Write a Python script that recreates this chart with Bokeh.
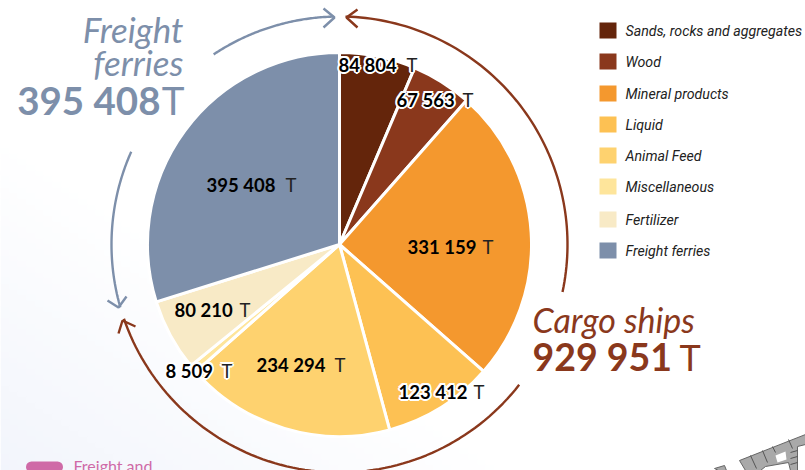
import numpy as np
from bokeh.plotting import figure
from bokeh.models import Range1d, ColumnDataSource
from bokeh.core.properties import value
from bokeh.embed import file_html
from bokeh.resources import INLINE

categories = ["Sands, rocks and aggregates", "Wood", "Mineral products", "Liquid",
              "Animal Feed", "Miscellaneous", "Fertilizer", "Freight ferries"]
tonnes = [84804, 67563, 331159, 123412, 234294, 8509, 80210, 395408]
colors = ["#64250b", "#8a381c", "#f4982e", "#fdc153", "#fed26f", "#fee59b", "#f8eac6", "#7d8faa"]
number_labels = ["84 804", "67 563", "331 159", "123 412", "234 294", "8 509", "80 210", "395 408"]
label_px = [(338, 64), (396, 99), (407, 246), (398, 391), (256, 364), (165, 370), (174, 309), (206, 184)]
unit_px = [406, 462, 482, 473, 334, 221, 239, 285]
halo = [True, True, False, True, False, True, False, False]

W, H = 805, 470
def Y(py):
    return H - np.asarray(py, dtype=float)

p = figure(width=W, height=H, x_range=Range1d(0, W), y_range=Range1d(0, H),
           output_backend="svg", toolbar_location=None, min_border=0, outline_line_color=None)
p.axis.visible = False
p.grid.visible = False
p.background_fill_color = "#ffffff"
p.border_fill_color = "#ffffff"

# faint background wash, lower left
ny, nx = 60, 60
gx, gy = np.meshgrid(np.linspace(0, 1, nx), np.linspace(0, 1, ny))
t = np.clip(1 - (gx + gy), 0, 1)
img = np.zeros((ny, nx, 4), dtype=np.uint8)
img[..., 0] = 236; img[..., 1] = 240; img[..., 2] = 250
img[..., 3] = (t * 170).astype(np.uint8)
p.image_rgba(image=[img.view(np.uint32).reshape(ny, nx)], x=0, y=0, dw=520, dh=340)

# pie
cx, cy, r = 339, Y(244), 192
tot = sum(tonnes)
cum = np.cumsum([0] + tonnes) / tot * 2 * np.pi
src = ColumnDataSource(dict(start=np.pi/2 - cum[1:], end=np.pi/2 - cum[:-1], color=colors))
p.wedge(x=cx, y=cy, radius=r, start_angle="start", end_angle="end", fill_color="color",
        line_color="white", line_width=3, source=src)

# arcs
def arc(a0, a1, col, rad=228):
    a = np.radians(np.linspace(a0, a1, 80))
    p.line(cx + rad*np.sin(a), cy + rad*np.cos(a), line_color=col, line_width=2.4)

BROWN, BLUE = "#8a381c", "#7d8faa"
arc(1.5, 102, BROWN); arc(128, 251, BROWN)
arc(-33.5, -1.5, BLUE); arc(-66, -106, BLUE)
for pts, col in [([(323,8),(334,17),(323,27)], BLUE),
                 ([(357,9),(346,17),(357,27)], BROWN),
                 ([(107,300),(118,307),(126,296)], BLUE),
                 ([(118,333),(122,320),(135,326)], BROWN)]:
    xs, ys = zip(*pts)
    p.line(xs, Y(ys), line_color=col, line_width=2.4)

# labels
num_font = value("Lato")
offs = [(-2,0),(2,0),(0,-2),(0,2),(-1.5,-1.5),(1.5,-1.5),(-1.5,1.5),(1.5,1.5)]
for lab, (lx, ly), ux, h in zip(number_labels, label_px, unit_px, halo):
    if h:
        for dx, dy in offs:
            p.text([lx], [Y(ly)], text=[lab], x_offset=dx, y_offset=dy, text_font=num_font, text_font_style="bold",
                   text_font_size="18.5px", text_color="white", text_baseline="middle")
            p.text([ux], [Y(ly)], text=["T"], x_offset=dx, y_offset=dy, text_font=num_font,
                   text_font_size="18.5px", text_color="white", text_baseline="middle")
    p.text([lx], [Y(ly)], text=[lab], text_font=num_font, text_font_style="bold",
           text_font_size="18.5px", text_color="black", text_baseline="middle")
    p.text([ux], [Y(ly)], text=["T"], text_font=num_font, text_font_size="18.5px",
           text_color="#222222", text_baseline="middle")

# legend
leg_y = [30, 61, 93, 124, 155, 186, 219, 250]
leg_font = value("Roboto")
for c, name, y in zip(colors, categories, leg_y):
    p.rect([607.5], [Y(y)], width=17, height=16, fill_color=c, line_color=None)
    p.text([625], [Y(y)], text=[name], text_font=leg_font, text_font_style="italic",
           text_font_size="14.2px", text_color="#222222", text_baseline="middle")

# big captions
def big(x, y, s, col, size, style="normal", align="right"):
    p.text([x], [Y(y)], text=[s], text_font=value("Lato"), text_font_style=style,
           text_font_size=f"{size}px", text_color=col, text_baseline="middle", text_align=align)

big(183, 28, "Freight", BLUE, 35, "italic")
big(183, 61, "ferries", BLUE, 35, "italic")
big(160, 99, "395 408", BLUE, 38.5, "bold")
big(184, 99, "T", BLUE, 38.5)
big(532, 319, "Cargo ships", BROWN, 34, "italic", "left")
big(532, 356, "929 951", BROWN, 37.5, "bold", "left")
big(679, 356, "T", BROWN, 36, "normal", "left")

# bottom-left fragment
p.line([31, 57], Y([466.5, 466.5]), line_color="#cf6aa7", line_width=11, line_cap="round")
big(73, 465, "Freight and", "#cf6aa7", 16, "normal", "left")

# map fragment
blocks = [([714,724,726,718],[468,465,470,470]),
          ([739,805,805,797,797,790,788,765,760,745],[460,434,444,446,470,470,462,466,470,470])]
for px, py in blocks:
    p.patch(px, Y(py), fill_color="#a9a9a9", line_color="#666666", line_width=1)
p.patch([775,785,786,777], Y([455,451,459,462]), fill_color="#ffffff", line_color=None)
for xs, ys in [([750,756],[455,468]), ([762,767],[450,462]), ([772,775],[446,452]),
               ([788,792],[439,448]), ([790,797],[452,450]), ([790,797],[458,456]), ([790,797],[464,462])]:
    p.line(xs, Y(ys), line_color="#555555", line_width=1)

open("out.html", "w").write(file_html(p, INLINE))
